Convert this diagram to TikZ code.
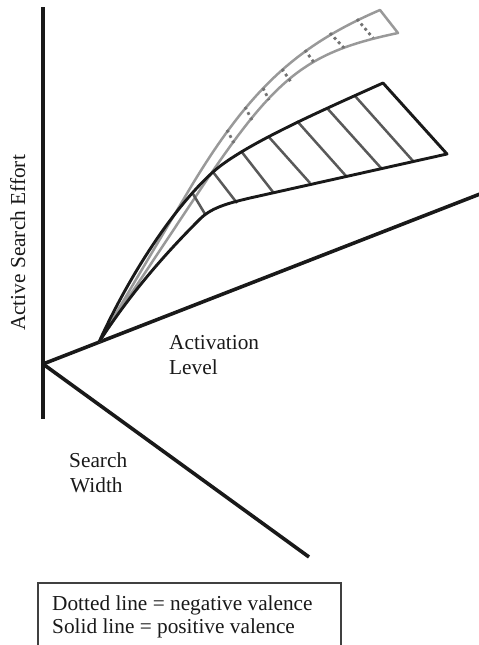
\documentclass[tikz,border=0pt]{standalone}
\usepackage{fontspec}
\setmainfont{Liberation Serif}
\begin{document}
\begin{tikzpicture}[x=1pt,y=-1pt,
  axisline/.style={line width=3.6pt,draw=black!90},
  poscurve/.style={line width=2.9pt,draw=black!90,line join=round},
  negcurve/.style={line width=2.5pt,draw=black!40,line join=round},
  hatchline/.style={line width=2.5pt,draw=black!65},
  dothatch/.style={line width=2.8pt,draw=black!55,dash pattern=on 2.8pt off 3.2pt},
  lbl/.style={font=\fontsize{21.3}{23}\selectfont,text=black!90,inner sep=0pt},
  legendbox/.style={line width=1.1pt,draw=black!75}]
\useasboundingbox (0,0) rectangle (479,645);
% axes
\coordinate (O) at (43,364);
\coordinate (Vtop) at (43,7);
\coordinate (Vbot) at (43,419);
\coordinate (Aend) at (480,194);
\coordinate (Send) at (309,557);
\draw[axisline] (Vtop) -- (Vbot);
\draw[axisline] (O) -- (Aend);
\draw[axisline] (O) -- (Send);
% common start of the bands, on the activation axis
\coordinate (S) at (99,342);
% negative valence band (grey)
\coordinate (Gend1) at (380,10);
\coordinate (Gend2) at (398,33);
\draw[negcurve] (S) -- (192,185) .. controls (250,89.3) and (297,45.7) .. (Gend1) -- (Gend2)
  .. controls (306,52.3) and (276,76) .. (200,190) -- (S);
\foreach \xa/\ya/\xb/\yb in {227/130/234/143, 245/107/252/120, 263/88/269/100, 282/69/291/82, 305/50/315/64, 330/33/344/48, 357/19/373/38}
  \draw[dothatch] (\xa,\ya) -- (\xb,\yb);
% positive valence band (black)
\foreach \xa/\ya/\xb/\yb in {193/194/205/214, 213/172/237/203, 241/151/273/192, 268/136/310/183, 297/121/346/176, 327/108/381/168, 355/96/413/161}
  \draw[hatchline] (\xa,\ya) -- (\xb,\yb);
\coordinate (Bend1) at (383,83);
\coordinate (Bend2) at (447,154);
\draw[poscurve] (S) .. controls (129,276) and (173,208) .. (213,172)
  .. controls (243,145) and (323,110) .. (Bend1) -- (Bend2)
  -- (250,198) .. controls (230,202.8) and (212,207) .. (200,219)
  .. controls (170,249) and (134,288) .. (S);
% labels
\node[lbl,rotate=90,anchor=base] (ase) at (25,243) {Active Search Effort};
\node[lbl,anchor=base west] (act) at (169,349) {Activation};
\node[lbl,anchor=base west] (lev) at (169,374) {Level};
\node[lbl,anchor=base west] (sea) at (69,467) {Search};
\node[lbl,anchor=base west] (wid) at (70,492) {Width};
% legend
\draw[legendbox] (38,650) -- (38,583) -- (341,583) -- (341,650);
\node[lbl,anchor=base west] (l1) at (52,610) {Dotted line = negative valence};
\node[lbl,anchor=base west] (l2) at (52,633) {Solid line = positive valence};
\end{tikzpicture}
\end{document}
